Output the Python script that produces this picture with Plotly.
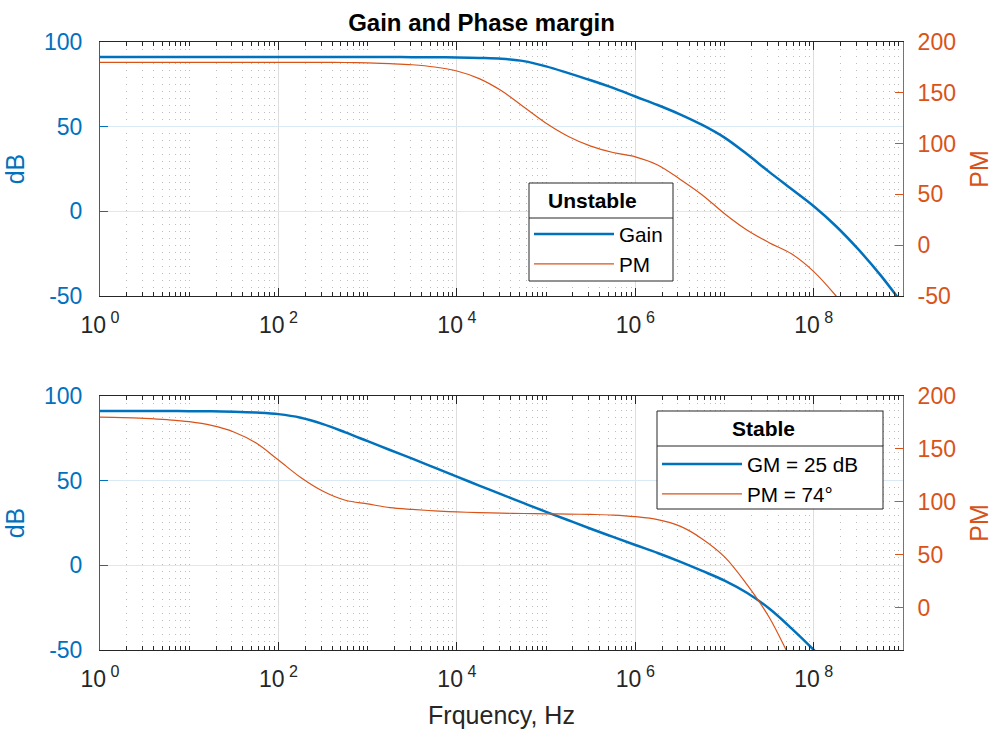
import plotly.graph_objects as go

# ---------------- data (quarter-decade steps) ----------------
freq_top_gain = [1, 1.778, 3.162, 5.623, 10, 17.78, 31.62, 56.23, 100, 177.8, 316.2, 562.3,
                 1e3, 1.778e3, 3.162e3, 5.623e3, 1e4, 1.778e4, 3.162e4, 5.623e4,
                 1e5, 1.778e5, 3.162e5, 5.623e5, 1e6, 1.778e6, 3.162e6, 5.623e6,
                 1e7, 1.778e7, 3.162e7, 5.623e7, 1e8, 1.778e8, 3.162e8, 5.623e8, 1e9]
gain_top = [91.1, 91.1, 91.1, 91.1, 91.1, 91.1, 91.1, 91.1, 91.1, 91.1, 91.1, 91.1,
            91.1, 91.1, 91.05, 91.0, 90.9, 90.6, 90.1, 88.7,
            85.6, 81.6, 77.4, 72.9, 67.8, 62.8, 57.3, 51.0,
            43.5, 33.8, 23.3, 13.2, 3.0, -8.8, -22.5, -37.8, -55.0]

freq_top_pm = [1, 1.778, 3.162, 5.623, 10, 17.78, 31.62, 56.23, 100, 177.8, 316.2, 562.3,
               1e3, 1.778e3, 3.162e3, 5.623e3, 1e4, 1.778e4, 3.162e4, 5.623e4,
               1e5, 1.778e5, 3.162e5, 5.623e5, 1e6, 1.778e6, 3.162e6, 5.623e6,
               1e7, 1.778e7, 3.162e7, 5.623e7, 1e8, 1.778e8, 3.162e8]
pm_top = [180, 180, 180, 180, 180, 180, 180, 180, 180, 180, 180, 179.8,
          179.4, 178.7, 177.6, 175.4, 171.5, 164, 152, 136,
          120, 107, 97.5, 91.2, 87, 79, 65, 49.5,
          31, 15, 2.5, -8.5, -26, -50, -78]

freq_bot_gain = [1, 1.778, 3.162, 5.623, 10, 17.78, 31.62, 56.23, 100, 177.8, 316.2, 562.3,
                 1e3, 1.778e3, 3.162e3, 5.623e3, 1e4, 1.778e4, 3.162e4, 5.623e4,
                 1e5, 1.778e5, 3.162e5, 5.623e5, 1e6, 1.778e6, 3.162e6, 5.623e6,
                 1e7, 1.778e7, 3.162e7, 5.623e7, 1e8, 1.778e8]
gain_bot = [91.1, 91.1, 91.1, 91.1, 91.05, 90.95, 90.7, 90.2, 89.3, 87.2, 83.4, 78.5,
            73.3, 68.1, 63.0, 57.7, 52.4, 47.1, 41.9, 36.7,
            31.6, 26.6, 21.6, 16.8, 12.0, 7.3, 2.2, -3.3,
            -9.0, -16.2, -25.5, -37.2, -50.0, -64.0]

freq_bot_pm = [1, 1.778, 3.162, 5.623, 10, 17.78, 31.62, 56.23, 100, 177.8, 316.2, 562.3,
               1e3, 1.778e3, 3.162e3, 5.623e3, 1e4, 1.778e4, 3.162e4, 5.623e4,
               1e5, 1.778e5, 3.162e5, 5.623e5, 1e6, 1.778e6, 3.162e6, 5.623e6,
               1e7, 1.778e7, 3.162e7, 5.623e7, 1e8]
pm_bot = [180, 179.6, 178.8, 177.6, 175.7, 172.2, 166.0, 155.5, 139.5, 123, 110, 101.5,
          98, 94.5, 92.8, 91.5, 90.5, 89.8, 89.3, 89.0,
          88.7, 88.4, 88.1, 87.5, 86.0, 83.2, 77, 65,
          48, 22, -9, -50, -90]

x_tickvals = [1, 1e2, 1e4, 1e6, 1e8]
x_ticktext = ["10<sup> 0</sup>", "10<sup> 2</sup>", "10<sup> 4</sup>", "10<sup> 6</sup>", "10<sup> 8</sup>"]
db_ticks = [-50, 0, 50, 100]
db_ticktext = ["-50", "0", "50", "100"]
pm_ticks_top = [-50, 0, 50, 100, 150, 200]
pm_ticktext_top = ["-50", "0", "50", "100", "150", "200"]
pm_ticks_bot = [0, 50, 100, 150, 200]
pm_ticktext_bot = ["0", "50", "100", "150", "200"]

top_names = ["Gain", "PM"]
bot_names = ["GM = 25 dB", "PM = 74°"]
top_legend_title = "Unstable"
bot_legend_title = "Stable"
main_title = "Gain and Phase margin"
x_title = "Frquency, Hz"

# ---------------- style ----------------
BLUE = "#0072BD"
ORANGE = "#D95319"
DARK = "#262626"
FONT = "Liberation Sans, Arial, Helvetica, sans-serif"
W, H = 993, 733
L, R, T, B = 100, 90, 42, 83
PW, PH = W - L - R, H - T - B


def px(xpix):
    return (xpix - L) / PW


def py(ypix):
    return (H - B - ypix) / PH


minor_vals = [k * 10 ** d for d in range(9) for k in range(2, 10)] + [10 ** d for d in (1, 3, 5, 7)]

fig = go.Figure()

fig.add_trace(go.Scatter(x=freq_top_gain, y=gain_top, name=top_names[0], mode="lines",
                         line=dict(color=BLUE, width=2.5, shape="spline", smoothing=1.0),
                         xaxis="x", yaxis="y", legend="legend"))
fig.add_trace(go.Scatter(x=freq_top_pm, y=pm_top, name=top_names[1], mode="lines",
                         line=dict(color=ORANGE, width=1.2, shape="spline", smoothing=1.0),
                         xaxis="x", yaxis="y2", legend="legend"))
fig.add_trace(go.Scatter(x=freq_bot_gain, y=gain_bot, name=bot_names[0], mode="lines",
                         line=dict(color=BLUE, width=2.5, shape="spline", smoothing=1.0),
                         xaxis="x2", yaxis="y3", legend="legend2"))
fig.add_trace(go.Scatter(x=freq_bot_pm, y=pm_bot, name=bot_names[1], mode="lines",
                         line=dict(color=ORANGE, width=1.2, shape="spline", smoothing=1.0),
                         xaxis="x2", yaxis="y4", legend="legend2"))


def xaxis_style(anchor, title=None):
    d = dict(type="log", range=[0, 9], anchor=anchor,
             tickmode="array", tickvals=x_tickvals, ticktext=x_ticktext,
             ticks="inside", ticklen=8, tickwidth=1, tickcolor=DARK,
             showline=True, linecolor=DARK, linewidth=1, mirror="ticks",
             showgrid=True, gridcolor="#DEDEDE", gridwidth=1, zeroline=False,
             tickfont=dict(size=23, color=DARK, family=FONT),
             ticklabelstandoff=8,
             minor=dict(tickmode="array", tickvals=minor_vals, ticks="inside", ticklen=4,
                        tickcolor=DARK, tickwidth=1, showgrid=True,
                        gridcolor="#BDBDBD", griddash="1px,6px", gridwidth=1))
    if title:
        d["title"] = dict(text=title, font=dict(size=25, color=DARK, family=FONT), standoff=15)
    return d


def left_y(domain, anchor):
    return dict(domain=domain, anchor=anchor, range=[-50, 100], tickmode="array",
                tickvals=db_ticks, ticktext=db_ticktext,
                ticks="inside", ticklen=8, tickcolor=BLUE, showline=True, linecolor=BLUE, linewidth=1,
                showgrid=True, gridcolor="#D9EAF5", gridwidth=1, zeroline=False,
                tickfont=dict(size=23, color=BLUE, family=FONT), ticklabelstandoff=12,
                title=dict(text="dB", font=dict(size=25, color=BLUE, family=FONT), standoff=12))


def right_y(overlay, anchor, rng, vals, texts):
    return dict(overlaying=overlay, anchor=anchor, side="right", range=rng, tickmode="array",
                tickvals=vals, ticktext=texts, ticks="inside", ticklen=8, tickcolor=ORANGE, showline=True,
                linecolor=ORANGE, linewidth=1, showgrid=False, zeroline=False,
                tickfont=dict(size=23, color=ORANGE, family=FONT), ticklabelstandoff=9,
                title=dict(text="PM", font=dict(size=25, color=ORANGE, family=FONT), standoff=18))


top_dom = [py(296), 1.0]
bot_dom = [0.0, py(396)]

legend_common = dict(bgcolor="rgba(0,0,0,0)", borderwidth=0,
                     font=dict(size=20.7, color="black", family=FONT),
                     itemwidth=80, xanchor="left", yanchor="top", tracegroupgap=0)

fig.update_layout(
    width=W, height=H,
    margin=dict(l=L, r=R, t=T, b=B, autoexpand=False),
    paper_bgcolor="white", plot_bgcolor="white",
    font=dict(family=FONT, color=DARK),
    title=dict(text="<b>" + main_title + "</b>", font=dict(size=24, color="black", family=FONT),
               x=481.5 / W, xref="container", xanchor="center",
               y=1 - 22.5 / H, yref="container", yanchor="middle"),
    xaxis=xaxis_style("y"),
    xaxis2=xaxis_style("y3", x_title),
    yaxis=left_y(top_dom, "x"),
    yaxis2=right_y("y", "x", [-50, 200], pm_ticks_top, pm_ticktext_top),
    yaxis3=left_y(bot_dom, "x2"),
    yaxis4=right_y("y3", "x2", [-40, 200], pm_ticks_bot, pm_ticktext_bot),
    legend=dict(x=px(529), y=py(214), **legend_common),
    legend2=dict(x=px(657), y=py(444), **legend_common),
    showlegend=True,
)

# legend frames (box + separator under the title), drawn above the data
for (x0, x1, y0, ysep, y1, title, dx) in [(529, 673, 183, 218, 281, top_legend_title, -9),
                                          (657, 883, 411, 446, 509, bot_legend_title, -7)]:
    fig.add_shape(type="rect", xref="paper", yref="paper", layer="above",
                  x0=px(x0), x1=px(x1), y0=py(y1), y1=py(y0),
                  fillcolor="white", line=dict(color=DARK, width=1))
    fig.add_shape(type="line", xref="paper", yref="paper", layer="above",
                  x0=px(x0), x1=px(x1), y0=py(ysep), y1=py(ysep),
                  line=dict(color=DARK, width=1))
    fig.add_annotation(text="<b>" + title + "</b>", xref="paper", yref="paper",
                       x=px((x0 + x1) / 2 + dx), y=py((y0 + ysep) / 2),
                       xanchor="center", yanchor="middle", showarrow=False,
                       font=dict(size=21, color="black", family=FONT))

fig.write_html("out.html")
